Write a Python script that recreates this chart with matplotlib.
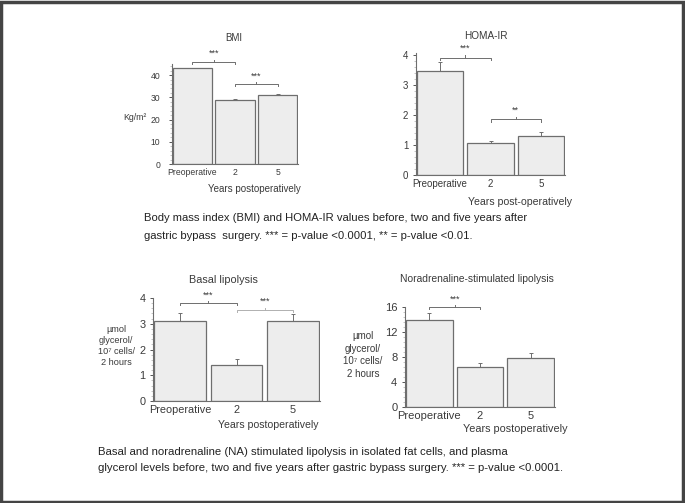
import matplotlib
matplotlib.use("Agg")
import matplotlib.pyplot as plt
from matplotlib.ticker import AutoMinorLocator
from matplotlib.patches import Rectangle

plt.rcParams["font.family"] = ["Liberation Sans", "DejaVu Sans"]

groups = ["Preoperative", "2", "5"]

bmi = [43.0, 29.0, 31.0]
bmi_err = [0.4, 0.4, 0.4]

homa = [3.45, 1.05, 1.30]
homa_err = [0.30, 0.07, 0.12]

basal = [3.12, 1.40, 3.09]
basal_err = [0.30, 0.22, 0.30]

na_stim = [14.0, 6.4, 7.8]
na_stim_err = [1.0, 0.6, 0.9]

caption_top = ["Body mass index (BMI) and HOMA-IR values before, two and five years after",
               "gastric bypass  surgery. *** = p-value <0.0001, ** = p-value <0.01."]
caption_bottom = ["Basal and noradrenaline (NA) stimulated lipolysis in isolated fat cells, and plasma",
                  "glycerol levels before, two and five years after gastric bypass surgery. *** = p-value <0.0001."]

W, H = 685, 503
BAR = "#ededed"
EDGE = "#6e6e6e"
TXT = "#3a3a3a"

fig = plt.figure(figsize=(W / 100, H / 100), dpi=100)


def fx(x):
    return x / W


def fy(y):
    return 1 - y / H


def panel(left, right, bottom, top, values, errs, ylim, yticks, title, xlabel,
          title_xy, xlabel_xy, brackets, fs, ypad=3, ylabel=None, ylabel_xy=None):
    # fs = (tick labels, title, x label, y label)
    ax = fig.add_axes([fx(left), fy(bottom), fx(right - left), (bottom - top) / H])
    x = range(len(values))
    ax.bar(x, values, width=0.92, color=BAR, edgecolor=EDGE, linewidth=0.9)
    ax.errorbar(x, values, yerr=[[0] * len(errs), errs], fmt="none", ecolor=EDGE,
                elinewidth=0.7, capsize=1.2, capthick=0.7)
    ax.set_xlim(-0.48, 2.48)
    ax.set_ylim(*ylim)
    ax.set_yticks(yticks)
    ax.yaxis.set_minor_locator(AutoMinorLocator(5))
    ax.set_xticks(list(x))
    ax.set_xticklabels(groups)
    ax.tick_params(axis="y", labelsize=fs[0], colors=TXT, length=2.5, width=0.6, pad=ypad)
    ax.tick_params(axis="y", which="minor", length=1.5, width=0.4, colors="#999999")
    ax.tick_params(axis="x", labelsize=fs[0], colors=TXT, length=0, pad=3)
    for s in ["top", "right"]:
        ax.spines[s].set_visible(False)
    for s in ["left", "bottom"]:
        ax.spines[s].set_color(EDGE)
        ax.spines[s].set_linewidth(0.8)
    fig.text(fx(title_xy[0]), fy(title_xy[1]), title, ha="center", va="center",
             fontsize=fs[1], color=TXT)
    fig.text(fx(xlabel_xy[0]), fy(xlabel_xy[1]), xlabel, ha="left", va="center",
             fontsize=fs[2], color=TXT)
    if ylabel:
        fig.text(fx(ylabel_xy[0]), fy(ylabel_xy[1]), ylabel, ha="center", va="center",
                 fontsize=fs[3], color=TXT, linespacing=1.3, multialignment="center")
    for i, j, yb, stars, col in brackets:
        d = (ylim[1] - ylim[0]) * 0.02
        ax.plot([i, i, j, j], [yb - d, yb, yb, yb - d], color=col, lw=0.7, clip_on=False)
        m = (i + j) / 2
        ax.plot([m, m], [yb, yb + d], color=col, lw=0.7, clip_on=False)
        ax.text(m, yb + d * 1.8, stars, ha="center", va="bottom", fontsize=6.5,
                color=TXT, clip_on=False)
    return ax


panel(172, 298, 164, 64, bmi, bmi_err, (0, 45), [0, 10, 20, 30, 40], "BMI",
      "Years postoperatively", (234, 38), (208, 189),
      [(0, 1, 46.0, "***", EDGE), (1, 2, 36.0, "***", EDGE)],
      fs=(6.2, 7.0, 7.0, 6.3), ypad=6, ylabel="Kg/m²", ylabel_xy=(135, 118))

panel(416, 565, 175, 53, homa, homa_err, (0, 4.05), [0, 1, 2, 3, 4], "HOMA-IR",
      "Years post-operatively", (486, 36), (468, 202),
      [(0, 1, 3.9, "***", EDGE), (1, 2, 1.85, "**", EDGE)],
      fs=(7.0, 7.2, 7.6, 7.0))

panel(153, 320, 401, 298, basal, basal_err, (0, 4.0), [0, 1, 2, 3, 4], "Basal lipolysis",
      "Years postoperatively", (223, 280), (218, 425),
      [(0, 1, 3.8, "***", EDGE), (1, 2, 3.55, "***", "#b0b0b0")],
      fs=(7.8, 7.8, 7.6, 6.6),
      ylabel="µmol\nglycerol/\n10⁷ cells/\n2 hours", ylabel_xy=(116, 346))

panel(405, 555, 407, 307, na_stim, na_stim_err, (0, 16), [0, 4, 8, 12, 16],
      "Noradrenaline-stimulated lipolysis", "Years postoperatively", (477, 279), (463, 429),
      [(0, 1, 16.0, "***", EDGE)],
      fs=(8.0, 7.4, 7.8, 7.0),
      ylabel="µmol\nglycerol/\n10⁷ cells/\n2 hours", ylabel_xy=(363, 355))

for k, line in enumerate(caption_top):
    fig.text(fx(144), fy(218 + k * 18), line, ha="left", va="center", fontsize=8.1, color="#222222")
for k, line in enumerate(caption_bottom):
    fig.text(fx(98), fy(452 + k * 16), line, ha="left", va="center", fontsize=8.2, color="#222222")

fig.patches.append(Rectangle((0.002, 0.002), 0.995, 0.995, transform=fig.transFigure,
                             fill=False, edgecolor="#444444", linewidth=2.5))

fig.savefig("out.png", dpi=100)
